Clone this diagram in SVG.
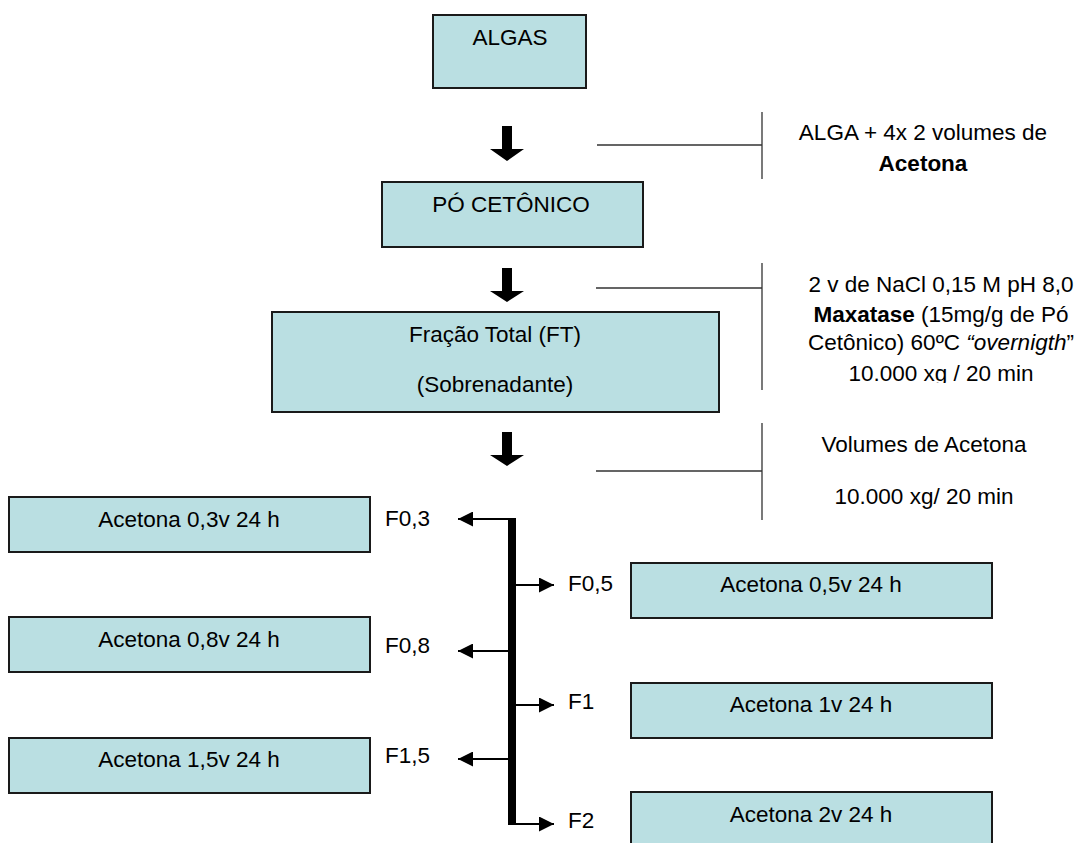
<svg xmlns="http://www.w3.org/2000/svg" width="1077" height="843" viewBox="0 0 1077 843">
<style>
  .box { fill: #BADFE2; stroke: #1a1a1a; stroke-width: 2; }
  .t { font-family: "Liberation Sans", Arial, sans-serif; font-size: 22.5px; fill: #000; }
  .c { text-anchor: middle; }
  .thin { stroke: #333; stroke-width: 1.3; fill: none; }
  .br { stroke: #000; stroke-width: 2; fill: none; marker-end: url(#ah); }
  .blk { fill: #000; }
</style>
<defs>
  <marker id="ah" viewBox="0 0 15 15" refX="15" refY="7.5" markerWidth="15" markerHeight="15" markerUnits="userSpaceOnUse" orient="auto">
    <path d="M0,0 L15,7.5 L0,15 z" fill="#000"/>
  </marker>
  <clipPath id="clipLast">
    <rect x="770" y="355" width="307" height="28"/>
  </clipPath>
</defs>
<rect width="1077" height="843" fill="#fff"/>

<g id="algas">
  <rect class="box" x="433" y="15" width="153" height="73"/>
  <text class="t c" x="510" y="45">ALGAS</text>
</g>
<g id="po-cetonico">
  <rect class="box" x="382" y="182" width="261" height="65"/>
  <text class="t c" x="511" y="212">PÓ CETÔNICO</text>
</g>
<g id="fracao-total">
  <rect class="box" x="272" y="312" width="447" height="100"/>
  <text class="t c" x="495" y="342">Fração Total (FT)</text>
  <text class="t c" x="495" y="392">(Sobrenadante)</text>
</g>

<g id="note1">
  <text class="t c" x="923" y="140">ALGA + 4x 2 volumes de</text>
  <text class="t c" x="923" y="171" font-weight="bold">Acetona</text>
</g>
<g id="note2">
  <text class="t c" x="941" y="292">2 v de NaCl 0,15 M pH 8,0</text>
  <text class="t c" x="941" y="322"><tspan font-weight="bold">Maxatase</tspan> (15mg/g de Pó</text>
  <text class="t c" x="941" y="350">Cetônico) 60ºC <tspan font-style="italic">“overnigth</tspan>”</text>
  <text class="t c" x="941" y="381" clip-path="url(#clipLast)">10.000 xg / 20 min</text>
</g>
<g id="note3">
  <text class="t c" x="924" y="452">Volumes de Acetona</text>
  <text class="t c" x="924" y="504">10.000 xg/ 20 min</text>
</g>

<g id="f03">
  <rect class="box" x="9" y="497" width="361" height="55"/>
  <text class="t c" x="189" y="527">Acetona 0,3v 24 h</text>
</g>
<g id="f08">
  <rect class="box" x="9" y="617" width="361" height="55"/>
  <text class="t c" x="189" y="647">Acetona 0,8v 24 h</text>
</g>
<g id="f15">
  <rect class="box" x="9" y="738" width="361" height="55"/>
  <text class="t c" x="189" y="767">Acetona 1,5v 24 h</text>
</g>
<g id="f05">
  <rect class="box" x="631" y="563" width="361" height="55"/>
  <text class="t c" x="811" y="592">Acetona 0,5v 24 h</text>
</g>
<g id="f1">
  <rect class="box" x="631" y="683" width="361" height="55"/>
  <text class="t c" x="811" y="712">Acetona 1v 24 h</text>
</g>
<g id="f2">
  <rect class="box" x="631" y="792" width="361" height="55"/>
  <text class="t c" x="811" y="822">Acetona 2v 24 h</text>
</g>

<g id="connectors">
  <polygon class="blk" points="502,126 512,126 512,149 524,149 507,161 490,149 502,149"/>
  <polygon class="blk" points="502,268 512,268 512,291 524,291 507,302 490,291 502,291"/>
  <polygon class="blk" points="502,432 512,432 512,455 524,455 507,466 490,455 502,455"/>

  <path class="thin" d="M597,145 H762 M762,112 V179"/>
  <path class="thin" d="M596,288 H762 M762,263 V390"/>
  <path class="thin" d="M596,471 H762 M762,423 V520"/>

  <line x1="512" y1="518" x2="512" y2="825" stroke="#000" stroke-width="8"/>
  <line class="br" x1="511" y1="519" x2="458" y2="519"/>
  <line class="br" x1="511" y1="651" x2="458" y2="651"/>
  <line class="br" x1="511" y1="759" x2="458" y2="759"/>
  <line class="br" x1="513" y1="585" x2="554" y2="585"/>
  <line class="br" x1="513" y1="705" x2="554" y2="705"/>
  <line class="br" x1="513" y1="824" x2="554" y2="824"/>

  <text class="t" x="385" y="526">F0,3</text>
  <text class="t" x="385" y="653">F0,8</text>
  <text class="t" x="385" y="763">F1,5</text>
  <text class="t" x="568" y="591">F0,5</text>
  <text class="t" x="568" y="709">F1</text>
  <text class="t" x="568" y="828">F2</text>
</g>
</svg>
